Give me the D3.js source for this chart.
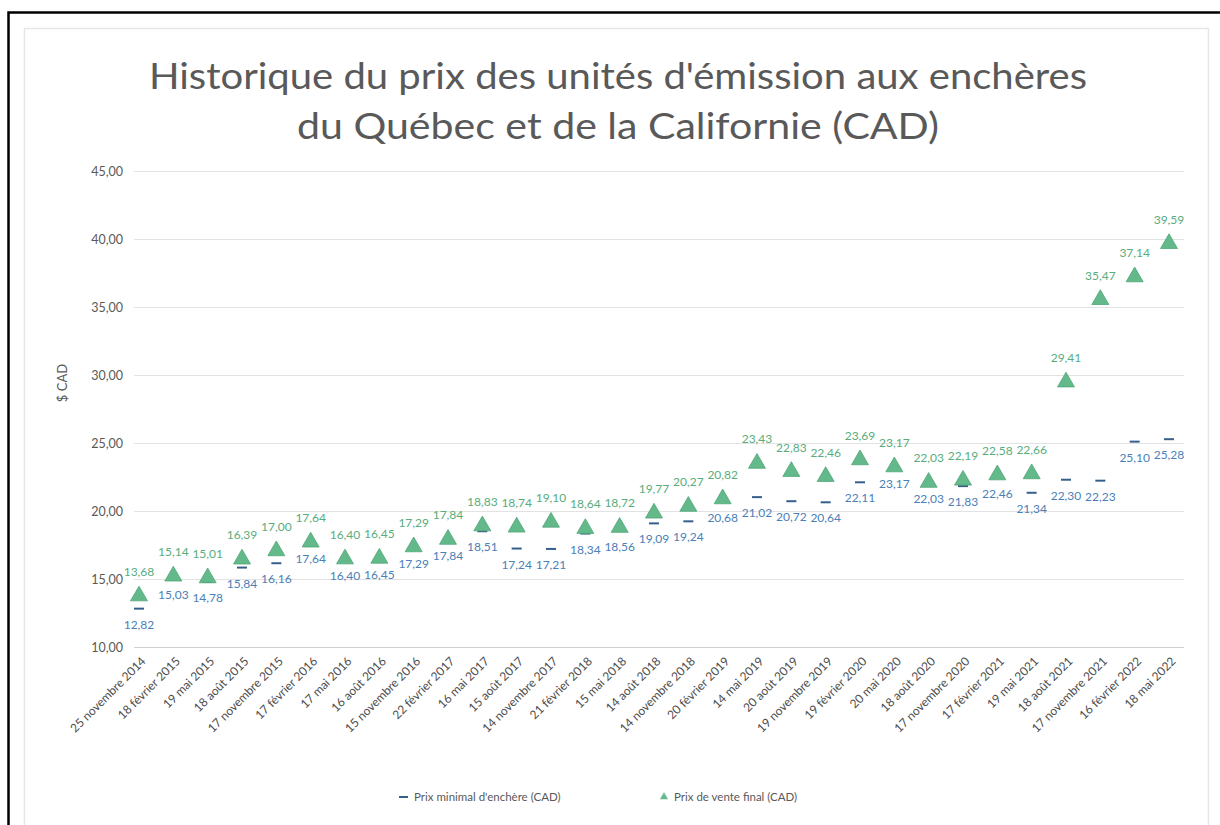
<!DOCTYPE html>
<html><head><meta charset="utf-8">
<script src="https://cdn.jsdelivr.net/npm/d3@7"></script>
<style>body{margin:0;background:#fff}svg{display:block}</style>
</head><body>
<svg id="c" width="1220" height="825"></svg>
<script>
const categories = ["25 novembre 2014","18 février 2015","19 mai 2015","18 août 2015","17 novembre 2015","17 février 2016","17 mai 2016","16 août 2016","15 novembre 2016","22 février 2017","16 mai 2017","15 août 2017","14 novembre 2017","21 février 2018","15 mai 2018","14 août 2018","14 novembre 2018","20 février 2019","14 mai 2019","20 août 2019","19 novembre 2019","19 février 2020","20 mai 2020","18 août 2020","17 novembre 2020","17 février 2021","19 mai 2021","18 août 2021","17 novembre 2021","16 février 2022","18 mai 2022"];
const minPrice = [12.82,15.03,14.78,15.84,16.16,17.64,16.40,16.45,17.29,17.84,18.51,17.24,17.21,18.34,18.56,19.09,19.24,20.68,21.02,20.72,20.64,22.11,23.17,22.03,21.83,22.46,21.34,22.30,22.23,25.10,25.28];
const finalPrice = [13.68,15.14,15.01,16.39,17.00,17.64,16.40,16.45,17.29,17.84,18.83,18.74,19.10,18.64,18.72,19.77,20.27,20.82,23.43,22.83,22.46,23.69,23.17,22.03,22.19,22.58,22.66,29.41,35.47,37.14,39.59];
const yTicks = [10,15,20,25,30,35,40,45];
const seriesNames = ["Prix minimal d'enchère (CAD)","Prix de vente final (CAD)"];
const titleLines = ["Historique du prix des unités d'émission aux enchères","du Québec et de la Californie (CAD)"];
const yTitle = "$ CAD";

const FONT = "Lato, 'Open Sans', sans-serif";
const GRAY = "#595959";
const GREEN = "#63b98a";
const GREEN_TXT = "#58ad7d";
const BLUE = "#375f8c";
const BLUE_TXT = "#4a80b8";
const fmt = v => v.toFixed(2).replace(".", ",");

const svg = d3.select("#c");
// frames
svg.append("path").attr("d","M8.5,825 L8.5,12.5 L1220,12.5").attr("fill","none").attr("stroke","#000").attr("stroke-width",2.5);
svg.append("rect").attr("x",24.5).attr("y",28.5).attr("width",1184).attr("height",800).attr("fill","#fff").attr("stroke","#e6e6e6").attr("stroke-width",1.5);

// title
const tw = [938, 642];
titleLines.forEach((t,i)=>{
  svg.append("text").attr("x",618).attr("y",89+i*50).attr("text-anchor","middle")
    .attr("font-family","Lato, 'Open Sans', sans-serif").attr("font-size",37).attr("fill",GRAY)
    .attr("textLength",tw[i]).attr("lengthAdjust","spacingAndGlyphs").text(t);
});

const x = d3.scalePoint().domain(categories).range([139,1169]);
const y = d3.scaleLinear().domain([10,45]).range([647,171]);

// grid
const grid = svg.append("g");
yTicks.forEach(t=>{
  grid.append("line").attr("x1",134).attr("x2",1184).attr("y1",Math.round(y(t))+0.5).attr("y2",Math.round(y(t))+0.5)
    .attr("stroke", t===10 ? "#d0d0d0" : "#e2e2e2").attr("stroke-width",1.2);
});

// y axis labels
const yAxis = d3.axisLeft(y).tickValues(yTicks).tickFormat(fmt).tickSize(0).tickPadding(0);
const ga = svg.append("g").attr("transform","translate(123,0)").call(yAxis);
ga.select(".domain").remove();
ga.selectAll("text").attr("font-family",FONT).attr("font-size",12.5).attr("fill",GRAY);

svg.append("text").attr("transform","translate(67,383) rotate(-90)").attr("text-anchor","middle")
  .attr("font-family",FONT).attr("font-size",13).attr("fill",GRAY).text(yTitle);

// x axis labels
const xAxis = d3.axisBottom(x).tickSize(0).tickPadding(0);
const gx = svg.append("g").attr("transform","translate(0,647)").call(xAxis);
gx.select(".domain").remove();
gx.selectAll("text").attr("font-family",FONT).attr("font-size",12).attr("fill","#4d4d4d")
  .attr("text-anchor","end").attr("dy",0).attr("transform","translate(7,15) rotate(-45)");

// minimal price dashes
svg.append("g").selectAll("line").data(minPrice).join("line")
  .attr("x1",(d,i)=>x(categories[i])-5).attr("x2",(d,i)=>x(categories[i])+5)
  .attr("y1",d=>y(d)).attr("y2",d=>y(d)).attr("stroke",BLUE).attr("stroke-width",2);

// final price triangles
const tri = d3.symbol().type(d3.symbolTriangle).size(125);
svg.append("g").selectAll("path").data(finalPrice).join("path")
  .attr("d",tri).attr("transform",(d,i)=>`translate(${x(categories[i])},${y(d)-1})`)
  .attr("fill",GREEN).attr("stroke","#4fa777").attr("stroke-width",0.8);

// labels
svg.append("g").selectAll("text").data(minPrice).join("text")
  .attr("x",(d,i)=>x(categories[i])).attr("y",d=>y(d)+20).attr("text-anchor","middle")
  .attr("font-family",FONT).attr("font-size",12).attr("fill",BLUE_TXT).text(fmt);
svg.append("g").selectAll("text").data(finalPrice).join("text")
  .attr("x",(d,i)=>x(categories[i])).attr("y",d=>y(d)-21).attr("text-anchor","middle")
  .attr("font-family",FONT).attr("font-size",12).attr("fill",GREEN_TXT).text(fmt);

// legend
const lg = svg.append("g");
lg.append("line").attr("x1",399).attr("x2",408).attr("y1",797).attr("y2",797).attr("stroke",BLUE).attr("stroke-width",2);
lg.append("text").attr("x",414).attr("y",801).attr("font-family",FONT).attr("font-size",11.5).attr("fill",GRAY).text(seriesNames[0]);
lg.append("path").attr("d",d3.symbol().type(d3.symbolTriangle).size(28)).attr("transform","translate(664,797)").attr("fill",GREEN);
lg.append("text").attr("x",674).attr("y",801).attr("font-family",FONT).attr("font-size",11.5).attr("fill",GRAY).text(seriesNames[1]);
</script>
</body></html>
